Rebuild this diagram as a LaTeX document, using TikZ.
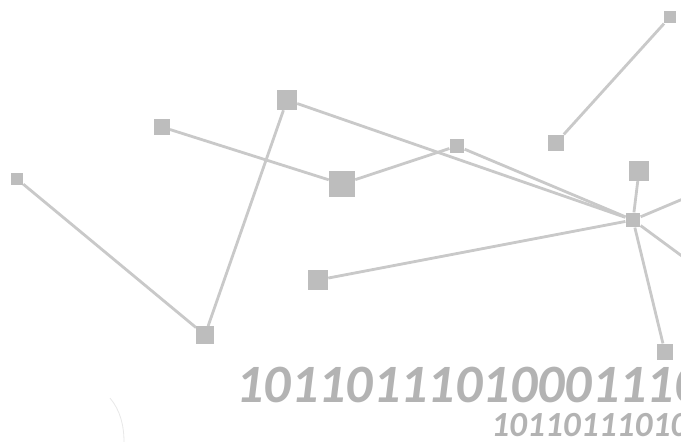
\documentclass[tikz,border=0pt]{standalone}
\usepackage{fontspec}
\setmainfont{Carlito}
\definecolor{linegray}{HTML}{C9C9C9}
\definecolor{boxgray}{HTML}{BDBDBD}
\definecolor{textgray}{HTML}{B3B3B3}
\tikzset{
  sq/.style={rectangle, fill=boxgray, draw=none, inner sep=0pt, minimum size=#1},
  link/.style={draw=linegray, line width=2.1pt},
  digits/.style={text=textgray, font=\bfseries\itshape, inner sep=0pt, anchor=base west}
}
\begin{document}
\begin{tikzpicture}[x=0.75pt, y=-0.75pt]
\useasboundingbox (0,0) rectangle (681,442);
\clip (0,0) rectangle (681,442);
\fill[white] (0,0) rectangle (681,442);
% nodes
\node[sq=9pt]   (A) at (17,179) {};
\node[sq=13pt]  (B) at (205,335) {};
\node[sq=11.5pt](C) at (162,127) {};
\node[sq=15pt]  (D) at (287,100) {};
\node[sq=19.5pt](E) at (342,184) {};
\node[sq=11pt]  (F) at (457,146) {};
\node[sq=15pt]  (G) at (318,280) {};
\node[sq=9.5pt] (H) at (670,17) {};
\node[sq=12.5pt](I) at (556,143) {};
\node[sq=14.5pt](J) at (639,171) {};
\node[sq=11pt]  (K) at (633,220) {};
\node[sq=12.5pt](L) at (665,352) {};
\coordinate (R1) at (690,196);
\coordinate (R2) at (690,262);
% connectors
\begin{scope}[on background layer/.try]
\end{scope}
\draw[link] (A) -- (B);
\draw[link] (B) -- (D);
\draw[link] (C) -- (E);
\draw[link] (E) -- (F);
\draw[link] (D) -- (K);
\draw[link] (F) -- (K);
\draw[link] (G) -- (K);
\draw[link] (H) -- (I);
\draw[link] (J) -- (K);
\draw[link] (K) -- (L);
\draw[link] (K) -- (R1);
\draw[link] (K) -- (R2);
% redraw boxes on top
\foreach \n/\s in {A/9pt,B/13pt,C/11.5pt,D/15pt,E/19.5pt,F/11pt,G/15pt,H/9.5pt,I/12.5pt,J/14.5pt,K/11pt,L/12.5pt}
  \node[sq=\s] at (\n) {};
% binary text
\node[digits, font=\fontsize{40.5}{40.5}\selectfont\bfseries\itshape] (T1) at (236,402) {10110111010001110110};
\node[digits, font=\fontsize{26.5}{26.5}\selectfont\bfseries\itshape] (T2) at (491,436) {1011011101011};
% faint scan mark
\draw[gray!18, line width=0.6pt] (110,398) .. controls (120,410) and (124,425) .. (124,442);
\end{tikzpicture}
\end{document}
